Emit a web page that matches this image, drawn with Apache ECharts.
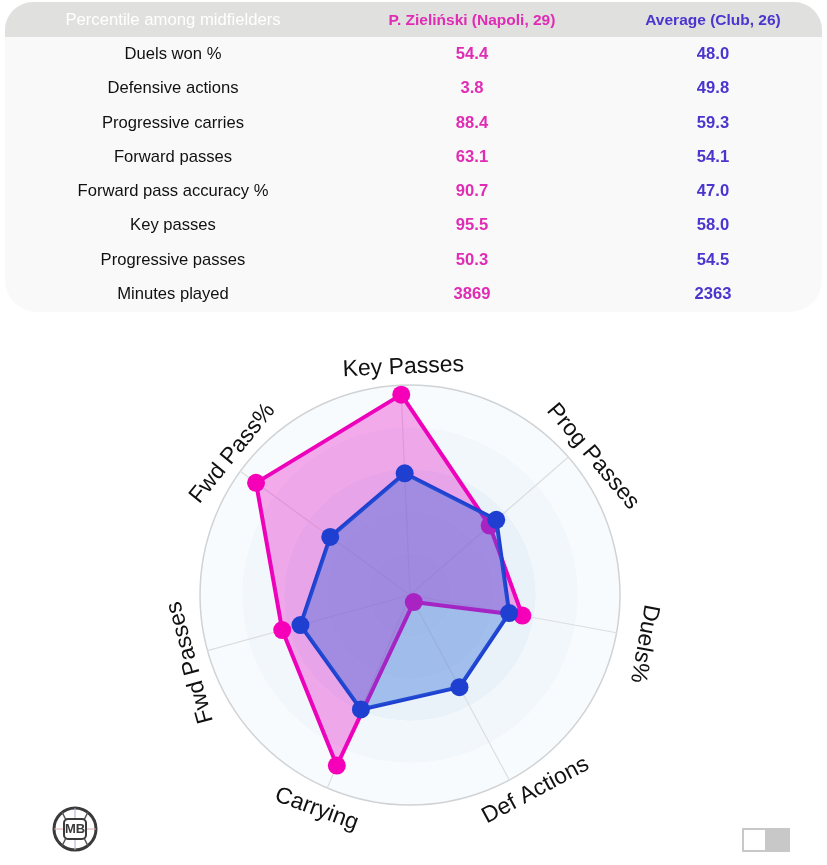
<!DOCTYPE html>
<html>
<head>
<meta charset="utf-8">
<title>P. Zieliński percentile radar</title>
<script src="https://cdn.jsdelivr.net/npm/echarts@6/dist/echarts.min.js"></script>
<style>
html, body { margin: 0; padding: 0; background: #fff; }
#chart { position: absolute; left: 0; top: 0; width: 827px; height: 865px; }
#stats { position: absolute; left: 5px; top: 2px; width: 817px; height: 310px; background: #f9f9f9;
  border-radius: 28px 28px 32px 32px; overflow: hidden; font-family: "Liberation Sans", Arial, sans-serif; }
#stats .head { height: 35px; background: #e0e0de; font-size: 15.5px; font-weight: bold; }
#stats .row { height: 34.3px; font-size: 16.6px; }
#stats .cell { position: absolute; text-align: center; line-height: 33px; white-space: nowrap; }
#stats .name { left: 0; width: 336px; color: #111; }
#stats .head .cell { line-height: 35px; }
#stats .head .name { color: #fff; font-weight: normal; font-size: 16.7px; }
#stats .a { left: 317px; width: 300px; color: #e02cb4; font-weight: bold; }
#stats .b { left: 558px; width: 300px; color: #4a35cf; font-weight: bold; }
</style>
</head>
<body>
<div id="chart"></div>
<div id="stats"></div>
<script>
var tableHead = ['Percentile among midfielders', 'P. Zieliński (Napoli, 29)', 'Average (Club, 26)'];
var tableNames = ['Duels won %', 'Defensive actions', 'Progressive carries', 'Forward passes', 'Forward pass accuracy %', 'Key passes', 'Progressive passes', 'Minutes played'];
var tablePlayer = ['54.4', '3.8', '88.4', '63.1', '90.7', '95.5', '50.3', '3869'];
var tableAverage = ['48.0', '49.8', '59.3', '54.1', '47.0', '58.0', '54.5', '2363'];

// echarts walks the radar axes counter-clockwise from the start angle
var axisNames = ['Key Passes', 'Fwd Pass%', 'Fwd Passes', 'Carrying', 'Def Actions', 'Duels%', 'Prog Passes'];
var playerValues = [95.5, 90.7, 63.1, 88.4, 3.8, 54.4, 50.3];
var averageValues = [58.0, 47.0, 54.1, 59.3, 49.8, 48.0, 54.5];

var centerX = 410, centerY = 595, radarR = 210, tilt = -2.5;

function buildTable() {
    var html = '<div class="head">' + cells(tableHead[0], tableHead[1], tableHead[2]) + '</div>';
    for (var i = 0; i < tableNames.length; i++) {
        html += '<div class="row">' + cells(tableNames[i], tablePlayer[i], tableAverage[i]) + '</div>';
    }
    document.getElementById('stats').innerHTML = html;
}
function cells(a, b, c) {
    return '<div class="cell name">' + a + '</div><div class="cell a">' + b + '</div><div class="cell b">' + c + '</div>';
}
buildTable();

// radar names follow the ring, so they are drawn as rotated text
function axisLabels() {
    // hand adjustments so the names sit where they do in the picture: x, y, rotation
    var nudge = [[3.5, 4, 0], [10, -5, 3], [4, 6, 0], [-2, 1, -3], [16, -9, 0], [0, 0, 0], [8, 14, 1]];
    var out = [];
    for (var i = 0; i < axisNames.length; i++) {
        var deg = tilt - i * 360 / axisNames.length;
        if (deg < 0 && i > 0) deg += 360;
        var rad = deg * Math.PI / 180;
        var rot = deg;
        // only the two names along the bottom are flipped to read upright
        if (deg > 120 && deg < 240) rot = deg - 180;
        var gap = axisNames[i] == 'Duels%' ? 28 : 22;
        out.push({
            type: 'text',
            x: centerX + (radarR + gap) * Math.sin(rad) + nudge[i][0],
            y: centerY - (radarR + gap) * Math.cos(rad) + nudge[i][1] + (axisNames[i] == 'Duels%' ? 6 : 0),
            rotation: -(rot + nudge[i][2]) * Math.PI / 180,
            style: { text: axisNames[i], font: '23px "Liberation Sans", Arial, sans-serif', fill: '#111', align: 'center', verticalAlign: 'middle' }
        });
    }
    return out;
}

var logo = [
    { type: 'circle', shape: { cx: 75, cy: 829, r: 21 }, style: { fill: '#fff', stroke: '#3a3a3a', lineWidth: 3 } },
    { type: 'line', shape: { x1: 54, y1: 829, x2: 96, y2: 829 }, style: { stroke: '#d8a8a8', lineWidth: 1 } },
    { type: 'line', shape: { x1: 75, y1: 808, x2: 75, y2: 850 }, style: { stroke: '#a8a8c8', lineWidth: 1 } },
    { type: 'line', shape: { x1: 62, y1: 812, x2: 66, y2: 820 }, style: { stroke: '#555', lineWidth: 1.5 } },
    { type: 'line', shape: { x1: 88, y1: 812, x2: 84, y2: 820 }, style: { stroke: '#555', lineWidth: 1.5 } },
    { type: 'line', shape: { x1: 62, y1: 846, x2: 66, y2: 838 }, style: { stroke: '#555', lineWidth: 1.5 } },
    { type: 'line', shape: { x1: 88, y1: 846, x2: 84, y2: 838 }, style: { stroke: '#555', lineWidth: 1.5 } },
    { type: 'rect', shape: { x: 64, y: 819, width: 22, height: 20, r: 4 }, style: { fill: '#fff', stroke: '#3a3a3a', lineWidth: 2 } },
    { type: 'text', x: 75, y: 829, style: { text: 'MB', font: 'bold 13px "Liberation Sans", Arial, sans-serif', fill: '#3a3a3a', align: 'center', verticalAlign: 'middle' } }
];
var toggle = [
    { type: 'rect', shape: { x: 742, y: 828, width: 48, height: 24 }, style: { fill: '#c8c8c8' } },
    { type: 'rect', shape: { x: 744, y: 830, width: 21, height: 20 }, style: { fill: '#fff' } }
];

var indicators = [];
for (var i = 0; i < axisNames.length; i++) {
    indicators.push({ name: axisNames[i], max: 100, min: 0 });
}

var myChart = echarts.init(document.getElementById('chart'));
myChart.setOption({
    animation: false,
    radar: {
        center: [centerX, centerY],
        radius: radarR,
        startAngle: 90 - tilt,
        shape: 'circle',
        splitNumber: 5,
        indicator: indicators,
        axisName: { show: false },
        axisLine: { lineStyle: { color: '#dcdee0', width: 1.2 } },
        axisTick: { show: false },
        splitLine: { lineStyle: { color: ['transparent', 'transparent', 'transparent', 'transparent', 'transparent', '#d0d3d5'], width: 1.5 } },
        splitArea: { areaStyle: { color: ['#e4eef6', '#e6f0f7', '#e9f2f9', '#f1f7fb', '#f8fbfe'] } }
    },
    series: [
        {
            type: 'radar',
            z: 2,
            symbol: 'circle',
            symbolSize: 18,
            data: [{ value: playerValues, name: tableHead[1] }],
            itemStyle: { color: '#f500b8' },
            lineStyle: { color: '#ee00b8', width: 4 },
            areaStyle: { color: '#e810c8', opacity: 0.34 }
        },
        {
            type: 'radar',
            z: 3,
            symbol: 'circle',
            symbolSize: 18,
            data: [{ value: averageValues, name: tableHead[2] }],
            itemStyle: { color: '#1f3fd0' },
            lineStyle: { color: '#1f3fd0', width: 4 },
            areaStyle: { color: '#2562d5', opacity: 0.36 }
        }
    ],
    graphic: axisLabels().concat(logo, toggle)
});
</script>
</body>
</html>
